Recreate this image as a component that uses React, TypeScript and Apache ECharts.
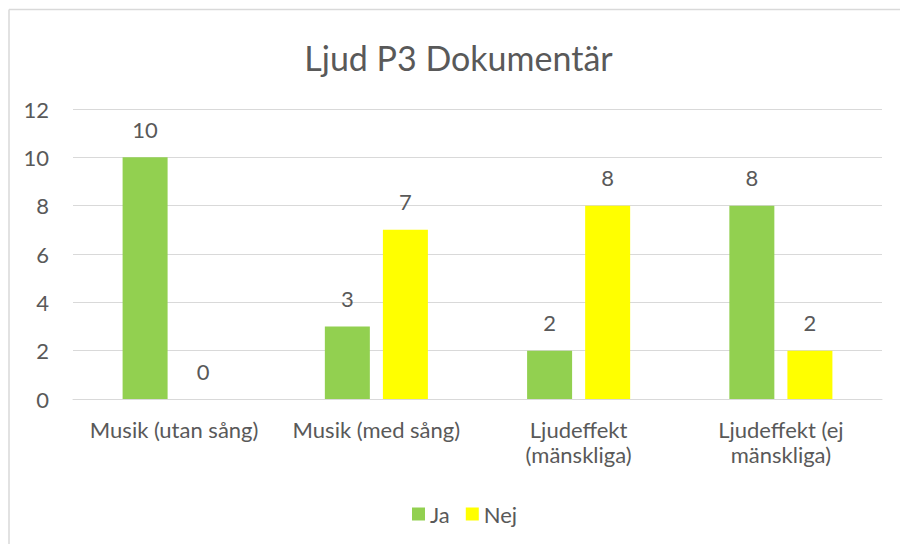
import React, { useEffect, useRef } from "react";
import * as echarts from "echarts";

const categories = ["Musik (utan sång)", "Musik (med sång)", "Ljudeffekt\n(mänskliga)", "Ljudeffekt (ej\nmänskliga)"];
const jaValues = [10, 3, 2, 8];
const nejValues = [0, 7, 8, 2];
const seriesNames = ["Ja", "Nej"];
const chartTitle = "Ljud P3 Dokumentär";

const FONT = "Lato, 'Open Sans', sans-serif";
const TEXT = "#595959";
const FS = 22;

export default function App() {
  const ref = useRef<HTMLDivElement>(null);
  useEffect(() => {
    if (!ref.current) return;
    document.body.style.overflow = "hidden";
    const chart = echarts.init(ref.current, undefined, { renderer: "svg" });
    chart.setOption({
      animation: false,
      backgroundColor: "#ffffff",
      textStyle: { fontFamily: FONT },
      graphic: [
        {
          type: "line",
          shape: { x1: 9, y1: 9.5, x2: 900, y2: 9.5 },
          style: { stroke: "#d9d9d9", lineWidth: 1.5 },
          silent: true,
        },
        {
          type: "line",
          shape: { x1: 9, y1: 9.5, x2: 9, y2: 544 },
          style: { stroke: "#d9d9d9", lineWidth: 1.5 },
          silent: true,
        },
        {
          type: "text",
          x: 458.5,
          y: 57,
          style: {
            text: chartTitle,
            fontFamily: FONT,
            fontSize: 34,
            fill: TEXT,
            align: "center",
            verticalAlign: "middle",
          },
          silent: true,
        },
      ],
      legend: {
        top: 498,
        left: 407,
        itemWidth: 13,
        itemHeight: 13,
        itemGap: 16,
        itemStyle: { borderWidth: 0 },
        textStyle: { fontFamily: FONT, fontSize: FS, color: TEXT },
        data: seriesNames.map((n) => ({ name: n, icon: "rect" })),
      },
      grid: { left: 73, right: 18, top: 109, bottom: 145, containLabel: false },
      xAxis: {
        type: "category",
        data: categories,
        axisLine: { lineStyle: { color: "#d9d9d9", width: 1 } },
        axisTick: { show: false },
        axisLabel: { fontFamily: FONT, fontSize: FS, color: TEXT, margin: 18, lineHeight: 25, interval: 0 },
      },
      yAxis: {
        type: "value",
        min: 0,
        max: 12,
        interval: 2,
        axisLine: { show: false },
        axisTick: { show: false },
        axisLabel: { fontFamily: FONT, fontSize: FS, color: TEXT, margin: 24 },
        splitLine: { lineStyle: { color: "#d9d9d9", width: 1 } },
      },
      series: [
        {
          name: seriesNames[0],
          type: "bar",
          data: jaValues,
          barWidth: 45,
          barGap: "29%",
          itemStyle: { color: "#92D050" },
          label: { show: true, position: "top", distance: 17, fontFamily: FONT, fontSize: FS, color: TEXT },
        },
        {
          name: seriesNames[1],
          type: "bar",
          data: nejValues,
          barWidth: 45,
          barGap: "29%",
          itemStyle: { color: "#FFFF00" },
          label: { show: true, position: "top", distance: 17, fontFamily: FONT, fontSize: FS, color: TEXT },
        },
      ],
    });
    return () => chart.dispose();
  }, []);
  return <div ref={ref} style={{ position: "absolute", left: 0, top: 0, width: 900, height: 544 }} />;
}
